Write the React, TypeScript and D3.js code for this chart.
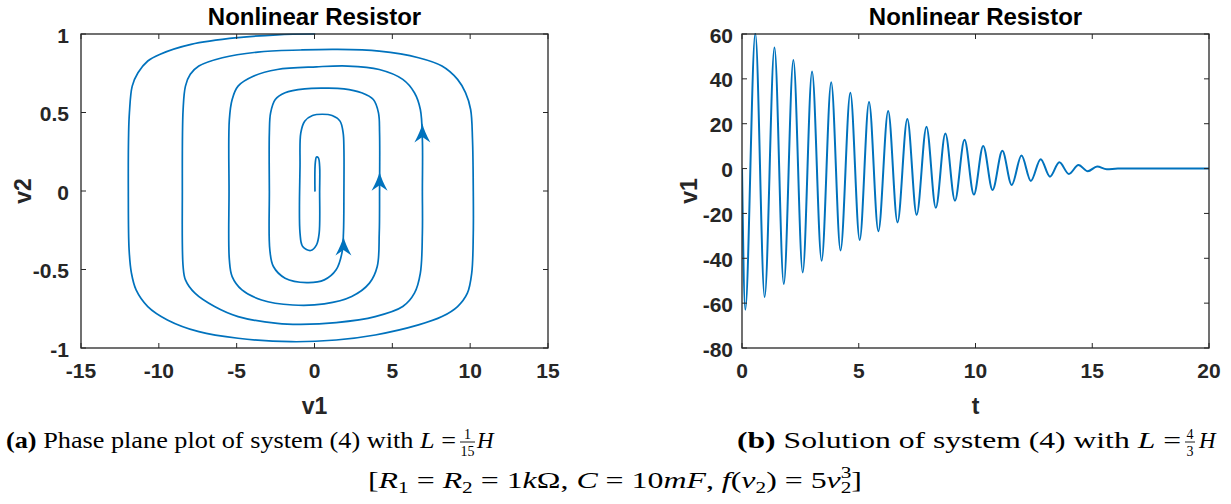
import React from 'react';
import * as d3 from 'd3';

const W = 1231;
const H = 504;
const BLUE = '#0072BD';
const AX = '#262626';
const SANS = "'Liberation Sans', Arial, Helvetica, sans-serif";
const SERIF = "'Liberation Serif', 'Times New Roman', serif";

// ---------- Panel (a): phase plane, v1 vs v2 ----------
const phaseV1 = [
  0, -2.4, -4.91, -7.93, -9.95, -10.71, -11.34, -11.71, -11.89, -11.94,
  -11.96, -11.91, -11.76, -11.46, -10.71, -9.45, -7.43, -4.91, -1.51, 1.39,
  3.9, 6.68, 8.19, 9.19, 9.82, 10.1, 10.2, 10.2, 10.15, 10.03,
  9.7, 9.19, 8.19, 6.68, 4.16, 1.39, -0.88,
  -3.65, -5.92, -7.43, -7.98, -8.29, -8.44, -8.49, -8.44, -8.29, -7.68,
  -6.42, -4.91, -2.39, -0.88, 1.39, 3.9, 5.67, 6.42, 6.8, 6.93,
  6.93, 6.93, 6.8, 6.42, 5.67, 4.16, 2.14, 0.13,
  -2.39, -3.9, -4.91, -5.29, -5.47, -5.49, -5.47, -5.29, -4.66, -3.4,
  -1.39, 0.63, 2.39, 3.53, 4.03, 4.16, 4.18, 4.18, 4.11, 3.78,
  3.02, 1.89, 0.63,
  -0.63, -1.89, -2.52, -2.82, -2.9, -2.9, -2.87, -2.64, -1.89, -0.5,
  0.63, 1.39, 1.76, 1.86, 1.89, 1.89, 1.84, 1.64, 1.13, 0.5,
  -0.13, -0.63, -0.88, -0.93, -0.93, -0.76, -0.25, 0.13, 0.3, 0.33,
  0.33, 0.25, 0.13, 0.05, 0.03,
];
const phaseV2 = [
  1.0, 0.995, 0.977, 0.934, 0.87, 0.828, 0.753, 0.668, 0.498, 0.37,
  0, -0.374, -0.523, -0.63, -0.736, -0.821, -0.896, -0.938, -0.96, -0.949,
  -0.917, -0.853, -0.8, -0.736, -0.651, -0.523, -0.268, 0, 0.328, 0.519,
  0.626, 0.711, 0.796, 0.849, 0.891, 0.902, 0.898,
  0.885, 0.849, 0.796, 0.743, 0.668, 0.519, 0, -0.481, -0.566, -0.651,
  -0.736, -0.8, -0.843, -0.849, -0.838, -0.8, -0.736, -0.651, -0.523, -0.268,
  0, 0.328, 0.519, 0.626, 0.711, 0.774, 0.796, 0.791,
  0.774, 0.732, 0.668, 0.583, 0.455, 0, -0.438, -0.545, -0.63, -0.694,
  -0.726, -0.719, -0.672, -0.587, -0.481, -0.268, 0, 0.37, 0.498, 0.583,
  0.626, 0.651, 0.655,
  0.651, 0.626, 0.583, 0.498, 0.37, 0, -0.374, -0.481, -0.555, -0.583,
  -0.566, -0.502, -0.396, -0.268, 0, 0.264, 0.37, 0.445, 0.481, 0.489,
  0.481, 0.445, 0.37, 0.157, -0.268, -0.353, -0.379, -0.343, -0.268, 0,
  0.157, 0.211, 0.217, 0.179, 0,
];
const arrowV1 = [1.86, 4.18, 6.93];
const arrowV2 = [-0.29, 0.123, 0.43];
const phaseXTicks = [-15, -10, -5, 0, 5, 10, 15];
const phaseYTicks = [-1, -0.5, 0, 0.5, 1];

// ---------- Panel (b): v1 over time (extrema) ----------
const timeT = [
  0, 0.14, 0.57, 0.97, 1.39, 1.79, 2.2, 2.6, 3.0, 3.41,
  3.82, 4.22, 4.64, 5.04, 5.44, 5.84, 6.26, 6.66, 7.08, 7.48,
  7.9, 8.3, 8.71, 9.12, 9.53, 9.93, 10.33, 10.73, 11.15, 11.55,
  11.97, 12.37, 12.79, 13.19, 13.59, 14.0, 14.41, 14.81, 15.21, 15.62,
  16.1, 20,
];
const timeV1 = [
  0, -63, 60.3, -57.3, 54.0, -51.5, 48.4, -46.3, 43.3, -41.1,
  38.5, -36.5, 33.8, -31.8, 29.7, -27.9, 25.7, -24.0, 22.1, -20.6,
  18.7, -17.5, 15.6, -14.3, 12.8, -11.6, 10.1, -9.5, 7.9, -7.3,
  5.8, -5.5, 4.2, -3.6, 2.8, -2.4, 1.6, -1.2, 0.9, -0.3,
  0, 0,
];
const timeXTicks = [0, 5, 10, 15, 20];
const timeYTicks = [-80, -60, -40, -20, 0, 20, 40, 60];

const TITLE = 'Nonlinear Resistor';

type Scale = d3.ScaleLinear<number, number>;

const TICK_FS = 21;
const LABEL_FS = 23;
const TITLE_FS = 24;

function Frame({ x, y, xTicks, yTicks, id, gap }: { x: Scale; y: Scale; xTicks: number[]; yTicks: number[]; id: string; gap: number }) {
  const [x0, x1] = x.range();
  const [yb, yt] = y.range();
  const tl = 5;
  return (
    <g>
      {xTicks.map((t) => (
        <g key={id + 'x' + t}>
          <line x1={x(t)} x2={x(t)} y1={yb} y2={yb - tl} stroke={AX} strokeWidth={1} />
          <line x1={x(t)} x2={x(t)} y1={yt} y2={yt + tl} stroke={AX} strokeWidth={1} />
          <text x={x(t)} y={yb + 30} textAnchor="middle" fontFamily={SANS} fontWeight="bold" fontSize={TICK_FS} fill={AX}>
            {String(t)}
          </text>
        </g>
      ))}
      {yTicks.map((t) => (
        <g key={id + 'y' + t}>
          <line x1={x0} x2={x0 + tl} y1={y(t)} y2={y(t)} stroke={AX} strokeWidth={1} />
          <line x1={x1} x2={x1 - tl} y1={y(t)} y2={y(t)} stroke={AX} strokeWidth={1} />
          <text x={x0 - gap} y={y(t) + 8.5} textAnchor="end" fontFamily={SANS} fontWeight="bold" fontSize={TICK_FS} fill={AX}>
            {String(t)}
          </text>
        </g>
      ))}
      <rect x={x0} y={yt} width={x1 - x0} height={yb - yt} fill="none" stroke={AX} strokeWidth={1.3} />
    </g>
  );
}

export default function App() {
  const xa = d3.scaleLinear().domain([-15, 15]).range([81, 548]);
  const ya = d3.scaleLinear().domain([-1, 1]).range([348, 34]);
  const xb = d3.scaleLinear().domain([0, 20]).range([742, 1209]);
  const yb = d3.scaleLinear().domain([-80, 60]).range([348, 34]);

  const phasePts: [number, number][] = phaseV1.map((v, i) => [v, phaseV2[i]]);
  const phasePath = d3
    .line<[number, number]>()
    .x((d) => xa(d[0]))
    .y((d) => ya(d[1]))
    .curve(d3.curveCatmullRom.alpha(0.5))(phasePts) as string;

  const timePts: [number, number][] = timeT.map((t, i) => [t, timeV1[i]]);
  const timePath = d3
    .line<[number, number]>()
    .x((d) => xb(d[0]))
    .y((d) => yb(d[1]))
    .curve(d3.curveMonotoneX)(timePts) as string;

  const arrowShape = 'M0,0 Q2,8 8,19 L0,13.5 L-8,19 Q-2,8 0,0 Z';

  return (
    <div style={{ position: 'fixed', left: 0, top: 0 }}>
      <svg width={W} height={H} viewBox={`0 0 ${W} ${H}`} style={{ display: 'block', background: '#fff' }}>
        <defs>
          <clipPath id="clipA">
            <rect x={81} y={33} width={467} height={316} />
          </clipPath>
          <clipPath id="clipB">
            <rect x={742} y={33} width={467} height={316} />
          </clipPath>
        </defs>

        {/* Panel (a) */}
        <text x={314.5} y={25} textAnchor="middle" fontFamily={SANS} fontWeight="bold" fontSize={TITLE_FS} fill="#000">
          {TITLE}
        </text>
        <g clipPath="url(#clipA)">
          <path d={phasePath} fill="none" stroke={BLUE} strokeWidth={1.7} strokeLinejoin="round" strokeLinecap="round" />
          {arrowV1.map((v, i) => (
            <path key={'ar' + i} d={arrowShape} transform={`translate(${xa(v)},${ya(arrowV2[i])})`} fill={BLUE} />
          ))}
        </g>
        <Frame x={xa} y={ya} xTicks={phaseXTicks} yTicks={phaseYTicks} id="a" gap={12} />
        <text x={314.5} y={414} textAnchor="middle" fontFamily={SANS} fontWeight="bold" fontSize={LABEL_FS} fill={AX}>
          v1
        </text>
        <text transform="translate(31,191) rotate(-90)" textAnchor="middle" fontFamily={SANS} fontWeight="bold" fontSize={LABEL_FS} fill={AX}>
          v2
        </text>

        {/* Panel (b) */}
        <text x={975.5} y={25} textAnchor="middle" fontFamily={SANS} fontWeight="bold" fontSize={TITLE_FS} fill="#000">
          {TITLE}
        </text>
        <g clipPath="url(#clipB)">
          <path d={timePath} fill="none" stroke={BLUE} strokeWidth={2} strokeLinejoin="round" />
        </g>
        <Frame x={xb} y={yb} xTicks={timeXTicks} yTicks={timeYTicks} id="b" gap={9} />
        <text x={975.5} y={414} textAnchor="middle" fontFamily={SANS} fontWeight="bold" fontSize={LABEL_FS} fill={AX}>
          t
        </text>
        <text transform="translate(697,191) rotate(-90)" textAnchor="middle" fontFamily={SANS} fontWeight="bold" fontSize={LABEL_FS} fill={AX}>
          v1
        </text>

        {/* Captions */}
        <g fontFamily={SERIF} fill="#000">
          <text x={6} y={448} fontSize={23} textLength={450} lengthAdjust="spacingAndGlyphs">
            <tspan fontWeight="bold">(a)</tspan> Phase plane plot of system (4) with <tspan fontStyle="italic">L</tspan> =
          </text>
          <text x={467.5} y={439} fontSize={14} textAnchor="middle">1</text>
          <line x1={460} x2={475} y1={442} y2={442} stroke="#000" strokeWidth={0.9} />
          <text x={467.5} y={456} fontSize={14} textAnchor="middle">15</text>
          <text x={477} y={448} fontSize={23} fontStyle="italic">H</text>

          <text x={737} y={448} fontSize={23} textLength={444} lengthAdjust="spacingAndGlyphs">
            <tspan fontWeight="bold">(b)</tspan> Solution of system (4) with <tspan fontStyle="italic">L</tspan> =
          </text>
          <text x={1190} y={439} fontSize={14} textAnchor="middle">4</text>
          <line x1={1185} x2={1195} y1={442} y2={442} stroke="#000" strokeWidth={0.9} />
          <text x={1190} y={456} fontSize={14} textAnchor="middle">3</text>
          <text x={1199} y={448} fontSize={23} fontStyle="italic">H</text>

          <text x={368} y={488} fontSize={24} textLength={494} lengthAdjust="spacingAndGlyphs">
            [<tspan fontStyle="italic">R</tspan>
            <tspan fontSize={16} dy={5}>1</tspan>
            <tspan dy={-5}> = </tspan>
            <tspan fontStyle="italic">R</tspan>
            <tspan fontSize={16} dy={5}>2</tspan>
            <tspan dy={-5}> = 1</tspan>
            <tspan fontStyle="italic">k</tspan>Ω, <tspan fontStyle="italic">C</tspan> = 10<tspan fontStyle="italic">mF</tspan>, <tspan fontStyle="italic">f</tspan>(<tspan fontStyle="italic">v</tspan>
            <tspan fontSize={16} dy={5}>2</tspan>
            <tspan dy={-5}>) = 5</tspan>
            <tspan fontStyle="italic">v</tspan>
            <tspan fontSize={16} dy={5}>2</tspan>
            <tspan fontSize={16} dx={-8} dy={-15}>3</tspan>
            <tspan dy={10}>]</tspan>
          </text>
        </g>
      </svg>
    </div>
  );
}
